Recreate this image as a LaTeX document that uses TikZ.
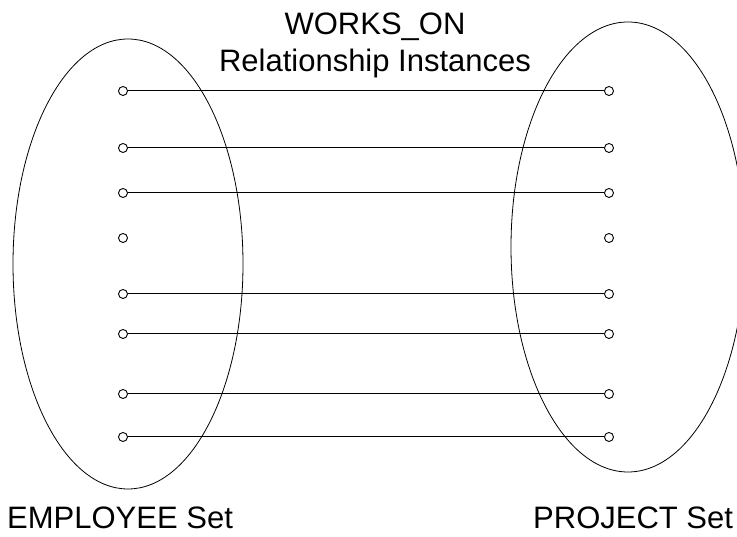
\documentclass[tikz,border=0pt]{standalone}
\usepackage{fontspec}
\setmainfont{Liberation Sans}
\usetikzlibrary{positioning}

\begin{document}
\begin{tikzpicture}[x=1pt, y=1pt,
  member/.style={circle, draw, inner sep=0pt, minimum size=9pt, line width=0.9pt},
  instance/.style={line width=1pt},
  entityset/.style={line width=0.8pt},
  caption/.style={font=\fontsize{31}{37}\selectfont, inner sep=0pt}]
  \useasboundingbox (0,0) rectangle (737,537);
  % the two entity sets
  \draw[entityset] (128,273) ellipse (115 and 225);
  \draw[entityset] (628,290) ellipse (117 and 225);
  % members of each set
  \foreach \i/\y in {1/446, 2/389, 3/344, 4/299, 5/243, 6/203, 7/143, 8/100} {
    \node[member] (e\i) at (123,\y) {};
    \node[member] (p\i) at (609,\y) {};
  }
  % relationship instances
  \foreach \i in {1,2,3,5,6,7,8}
    \draw[instance] (e\i) -- (p\i);
  \node[caption, anchor=base] (works) at (375,502) {WORKS\_ON};
  \node[caption, anchor=base] (inst) at (375,465) {Relationship Instances};
  \node[caption, anchor=base west] (empset) at (7,8) {EMPLOYEE Set};
  \node[caption, anchor=base west] (projset) at (533,8) {PROJECT Set};
\end{tikzpicture}
\end{document}
